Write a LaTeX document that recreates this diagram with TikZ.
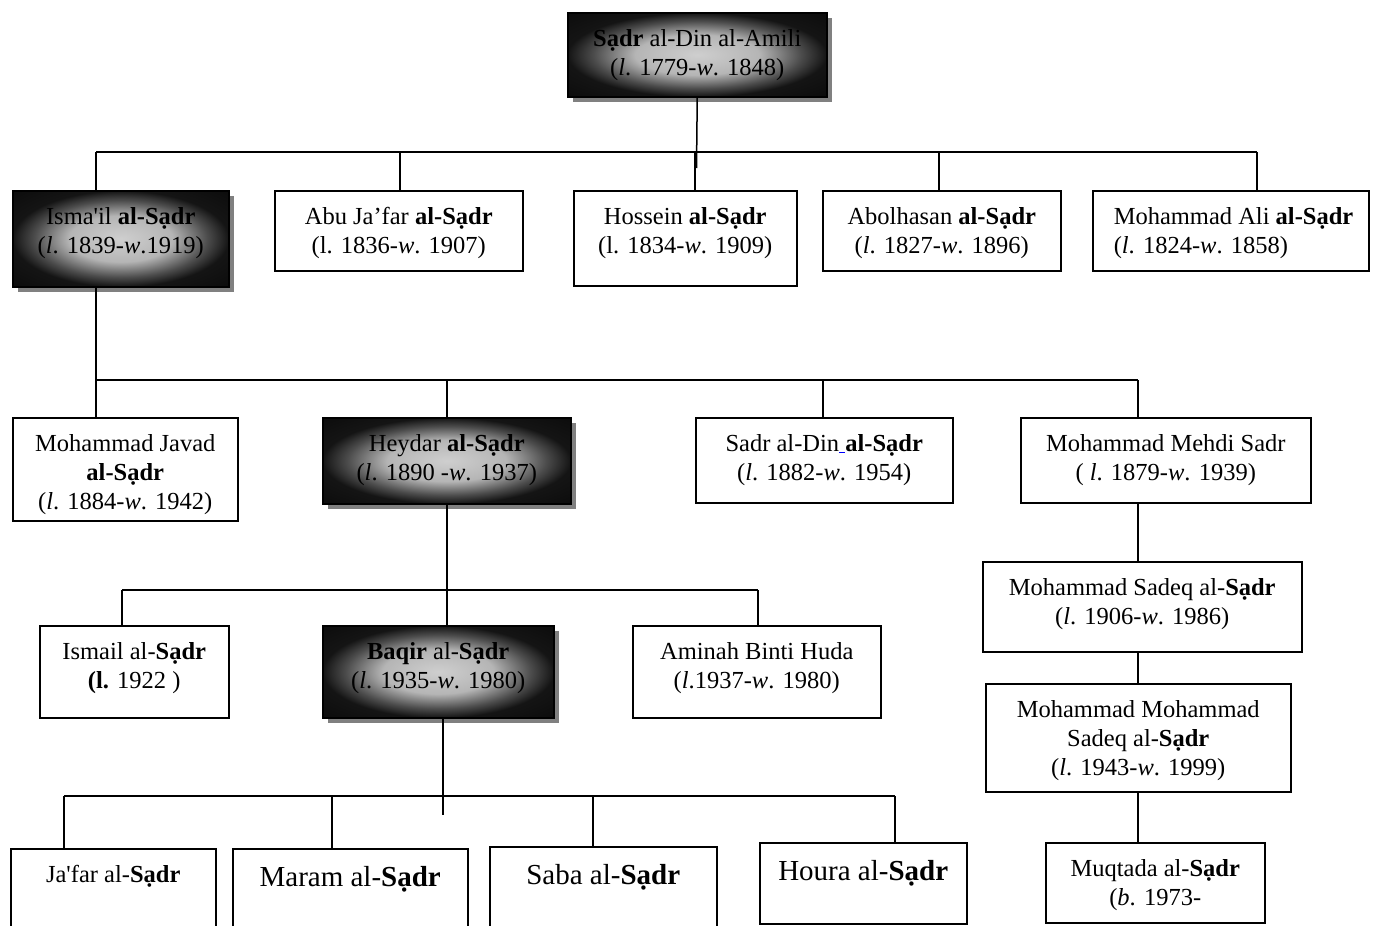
\documentclass[tikz,border=0pt]{standalone}
\usepackage{fontspec}
\setmainfont{Liberation Serif}
\usetikzlibrary{shadows}

\newcommand{\famcell}[4][\centering]{\parbox[t][#3pt][t]{#2pt}{#1\vspace*{13pt}\strut #4}}
\newcommand{\sadr}{Sạdr}
\pgfdeclareradialshading{famglow}{\pgfpoint{0bp}{0bp}}{color(0bp)=(gray!38); color(12bp)=(gray!58); color(20bp)=(black!70); color(25bp)=(black!92); color(50bp)=(black)}

\begin{document}
\begin{tikzpicture}[x=1pt, y=-1pt, line width=1.5pt,
	every node/.style={inner sep=0pt, anchor=north west, font=\fontsize{24.5}{29}\selectfont},
	fam/.style={draw},
	famshade/.style={draw, shading=famglow,
		drop shadow={shadow xshift=5pt, shadow yshift=-5pt, fill=gray, opacity=1}},
	bigname/.style={font=\fontsize{29}{35}\selectfont}]
	\useasboundingbox (0,0) rectangle (1382,926);

	\node[famshade] (amili) at (567,12) {\famcell{259}{84}{\textbf{\sadr} al-Din al-Amili\\(\textit{l}. 1779-\textit{w}. 1848)}};

	% sons of Sadr al-Din
	\node[famshade] (ismail) at (12,190) {\famcell{216}{96}{Isma\textquotesingle il \textbf{al-\sadr}\\(\textit{l}. 1839-\textit{w}.1919)}};
	\node[fam] (abujafar) at (274,190) {\famcell{248}{80}{Abu Ja’far \textbf{al-\sadr}\\(l. 1836-\textit{w}. 1907)}};
	\node[fam] (hossein) at (573,190) {\famcell{223}{95}{Hossein \textbf{al-\sadr}\\(l. 1834-\textit{w}. 1909)}};
	\node[fam] (abolhasan) at (822,190) {\famcell{238}{80}{Abolhasan \textbf{al-\sadr}\\(\textit{l}. 1827-\textit{w}. 1896)}};
	\node[fam] (mali) at (1092,190) {\famcell[\raggedright\leftskip=21pt]{276}{80}{Mohammad Ali \textbf{al-\sadr}\\(\textit{l}. 1824-\textit{w}. 1858)}};

	% sons of Isma'il
	\node[fam] (javad) at (12,417) {\famcell{225}{103}{Mohammad Javad\\\textbf{al-\sadr}\\(\textit{l}. 1884-\textit{w}. 1942)}};
	\node[famshade] (heydar) at (322,417) {\famcell{248}{86}{Heydar \textbf{al-\sadr}\\(\textit{l}. 1890 -\textit{w}. 1937)}};
	\node[fam] (sadrdin) at (695,417) {\famcell{257}{85}{Sadr al-Din\textcolor{blue}{\underline{\ }}\textbf{al-\sadr}\\(\textit{l}. 1882-\textit{w}. 1954)}};
	\node[fam] (mehdi) at (1020,417) {\famcell{290}{85}{Mohammad Mehdi Sadr\\( \textit{l}. 1879-\textit{w}. 1939)}};

	% children of Heydar
	\node[fam] (ismailb) at (39,625) {\famcell{189}{92}{Ismail al-\textbf{\sadr}\\\textbf{(l.} 1922 )}};
	\node[famshade] (baqir) at (322,625) {\famcell{231}{92}{\textbf{Baqir} al-\textbf{\sadr}\\(\textit{l}. 1935-\textit{w}. 1980)}};
	\node[fam] (aminah) at (632,625) {\famcell{248}{92}{Aminah Binti Huda\\(\textit{l}.1937-\textit{w}. 1980)}};

	% line of Mohammad Mehdi
	\node[fam] (sadeq) at (982,561) {\famcell{319}{90}{Mohammad Sadeq al-\textbf{\sadr}\\(\textit{l}. 1906-\textit{w}. 1986)}};
	\node[fam] (mmsadeq) at (985,683) {\famcell{305}{108}{Mohammad Mohammad\\Sadeq al-\textbf{\sadr}\\(\textit{l}. 1943-\textit{w}. 1999)}};
	\node[fam] (muqtada) at (1045,842) {\famcell{219}{80}{Muqtada al-\textbf{\sadr}\\(\textit{b}. 1973-}};

	% children of Baqir
	\node[fam] (jafar) at (10,848) {\famcell{205}{100}{Ja\textquotesingle far al-\textbf{\sadr}}};
	\node[fam, bigname] (maram) at (232,848) {\famcell{235}{100}{Maram al-\textbf{\sadr}}};
	\node[fam, bigname] (saba) at (489,846) {\famcell{227}{100}{Saba al-\textbf{\sadr}}};
	\node[fam, bigname] (houra) at (759,842) {\famcell{207}{81}{Houra al-\textbf{\sadr}}};

	% first bar
	\coordinate (gonew) at (96,152);
	\coordinate (gonee) at (1257,152);
	\coordinate (gonetail) at (696.5,168);
	\draw (amili.south) -- (gonetail);
	\draw (gonew) -- (gonee);
	\foreach \x/\n in {96/ismail, 400/abujafar, 695/hossein, 939/abolhasan, 1257/mali}
		\draw (\x,152) -- (\x,0 |- \n.north);

	% second bar
	\coordinate (gtwow) at (96,380);
	\coordinate (gtwoe) at (1138,380);
	\draw (ismail.south -| gtwow) -- (gtwow);
	\draw (gtwow) -- (gtwoe);
	\foreach \x/\n in {96/javad, 447/heydar, 823/sadrdin, 1138/mehdi}
		\draw (\x,380) -- (\x,0 |- \n.north);

	% third bar
	\coordinate (gthreew) at (122,590);
	\coordinate (gthreee) at (758,590);
	\draw (heydar.south) -- (heydar.south |- baqir.north);
	\draw (gthreew) -- (gthreee);
	\draw (gthreew) -- (gthreew |- ismailb.north);
	\draw (gthreee) -- (gthreee |- aminah.north);

	% Mehdi line
	\coordinate (mline) at (1138,0);
	\draw (mline |- mehdi.south) -- (mline |- sadeq.north);
	\draw (mline |- sadeq.south) -- (mline |- mmsadeq.north);
	\draw (mline |- mmsadeq.south) -- (mline |- muqtada.north);

	% fourth bar
	\coordinate (gfourw) at (64,796);
	\coordinate (gfoure) at (895,796);
	\coordinate (gfourtail) at (443,815);
	\draw (baqir.south -| gfourtail) -- (gfourtail);
	\draw (gfourw) -- (gfoure);
	\foreach \x/\n in {64/jafar, 332/maram, 593/saba, 895/houra}
		\draw (\x,796) -- (\x,0 |- \n.north);
\end{tikzpicture}
\end{document}
